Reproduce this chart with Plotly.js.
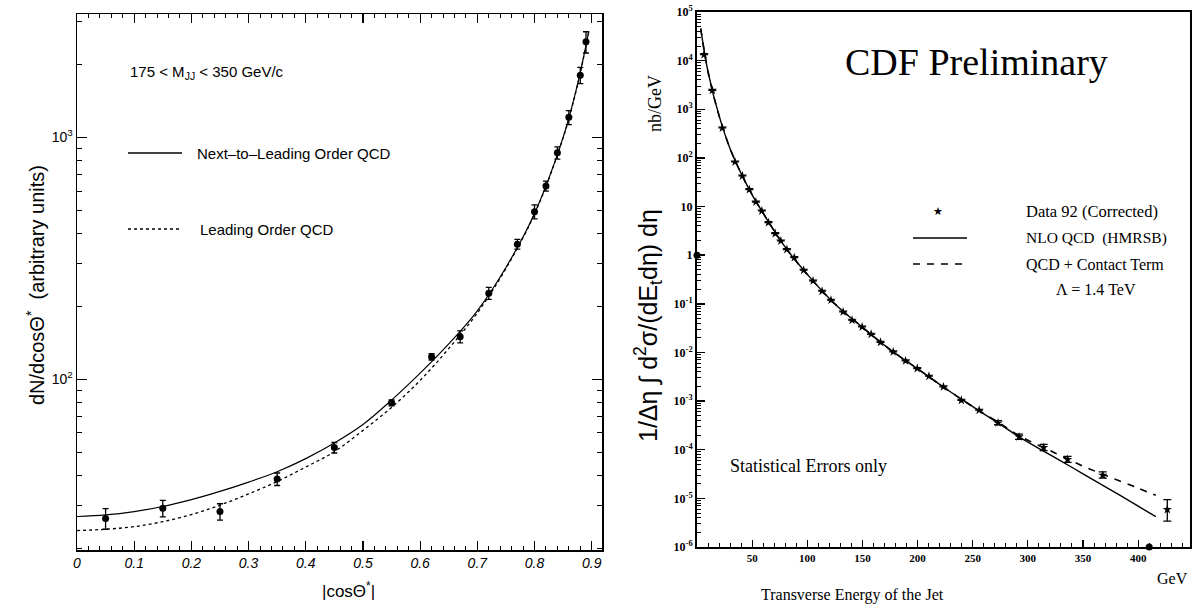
<!DOCTYPE html>
<html>
<head>
<meta charset="utf-8">
<script src="https://cdn.plot.ly/plotly-3.0.1.min.js"></script>
<style>html,body{margin:0;padding:0;background:#fff;}#chart{width:1195px;height:608px;}</style>
</head>
<body>
<div id="chart"></div>
<script>
// ---------- Left panel: angular distribution ----------
const cosCurveX = [0, 0.05, 0.1, 0.15, 0.2, 0.25, 0.3, 0.35, 0.4, 0.45, 0.5, 0.55, 0.6, 0.65, 0.7, 0.75, 0.8, 0.85, 0.875, 0.895];
const nloCurve  = [27.1, 27.5, 28.4, 29.8, 31.8, 34.4, 37.6, 41.5, 47.0, 54.5, 65.0, 82.0, 106, 140, 192, 290, 485, 1000, 1650, 2750];
const loCurve   = [23.7, 24.0, 24.6, 25.8, 27.6, 30.2, 33.6, 37.8, 43.4, 50.2, 61.5, 76.5, 99, 134, 188, 287, 482, 995, 1640, 2750];
const cosDataX  = [0.05, 0.15, 0.25, 0.35, 0.45, 0.55, 0.62, 0.67, 0.72, 0.77, 0.80, 0.82, 0.84, 0.86, 0.88, 0.89];
const cosDataY  = [26.6, 29.3, 28.4, 38.7, 52.2, 80.0, 124, 150, 227, 362, 493, 630, 863, 1210, 1807, 2483];
const cosDataErr= [2.6, 2.3, 2.2, 2.3, 2.6, 2.3, 3.8, 8.6, 13, 17, 33, 30, 50, 80, 140, 250];
const leftXTicks = [0, 0.1, 0.2, 0.3, 0.4, 0.5, 0.6, 0.7, 0.8, 0.9];
const leftXLabels = ['0', '0.1', '0.2', '0.3', '0.4', '0.5', '0.6', '0.7', '0.8', '0.9'];
const leftYTicks = [100, 1000];
const leftYLabels = ['10<sup>2</sup>', '10<sup>3</sup>'];

// ---------- Right panel: inclusive jet Et spectrum ----------
const etCurveX   = [3.4, 10, 20, 30, 40, 50, 60, 80, 100, 125, 150, 175, 200, 225, 250, 275, 292, 325, 350, 375, 400, 416];
const nloEt      = [45700, 5900, 740, 155, 48, 17.4, 7.3, 1.46, 0.403, 0.0995, 0.033, 0.0115, 0.00462, 0.00184, 0.00077, 0.00033, 0.000184, 6.8e-5, 3.2e-5, 1.5e-5, 6.9e-6, 4.2e-6];
const contactEt  = [45700, 5900, 740, 155, 48, 17.4, 7.3, 1.46, 0.403, 0.0995, 0.033, 0.0115, 0.00462, 0.00184, 0.00077, 0.000345, 0.000195, 8.5e-5, 4.6e-5, 2.7e-5, 1.62e-5, 1.16e-5];
const etDataX    = [6.4, 13.9, 23.0, 34.5, 41.2, 47.5, 53.4, 58.8, 64.8, 70.9, 76.0, 81.5, 88.2, 96.7, 105.2, 113.4, 121.5, 132.5, 140.6, 149.7, 157.9, 166.4, 177.9, 189.1, 199.7, 210.3, 223.4, 239.7, 255.8, 273.0, 292.0, 314.3, 336.0, 367.9, 426.4];
const etDataY    = [13300, 2460, 413, 82.6, 42.6, 22.3, 12.4, 8.13, 4.69, 2.79, 1.96, 1.31, 0.893, 0.491, 0.296, 0.182, 0.119, 0.0682, 0.046, 0.0335, 0.0237, 0.0162, 0.0103, 0.00671, 0.00468, 0.00325, 0.00196, 0.00104, 0.00065, 0.000356, 0.000184, 0.000111, 6.31e-5, 3.0e-5, 5.9e-6];
const etErrPlus  = [0,0,0,0,0,0,0,0,0,0,0,0,0,0,0,0,0,0,0,0,0,0,0,0,0,0,0,0,0,0.00004,0.000025,0.000018,1.0e-5,5e-6,3.5e-6];
const etErrMinus = [0,0,0,0,0,0,0,0,0,0,0,0,0,0,0,0,0,0,0,0,0,0,0,0,0,0,0,0,0,0.00003,0.00002,0.000015,8e-6,4e-6,2.5e-6];
const axisDotsX  = [0, 410];
const axisDotsY  = [1, 1e-6];
const rightXTicks = [50, 100, 150, 200, 250, 300, 350, 400];
const rightYTicks = [1e5, 1e4, 1e3, 1e2, 10, 1, 0.1, 0.01, 1e-3, 1e-4, 1e-5, 1e-6];
const rightYLabels = ['10<sup>5</sup>', '10<sup>4</sup>', '10<sup>3</sup>', '10<sup>2</sup>', '10', '1', '10<sup>-1</sup>', '10<sup>-2</sup>', '10<sup>-3</sup>', '10<sup>-4</sup>', '10<sup>-5</sup>', '10<sup>-6</sup>'];

const W = 1195, H = 608;
const px = v => v / W;
const py = v => 1 - v / H;
const sans = 'Liberation Sans, Arial, sans-serif';
const serif = 'Liberation Serif, Times New Roman, serif';

const traces = [
  {x: cosCurveX, y: loCurve, xaxis: 'x', yaxis: 'y', mode: 'lines', line: {color: '#000', width: 1.3, dash: 'dot', shape: 'spline'}, hoverinfo: 'skip'},
  {x: cosCurveX, y: nloCurve, xaxis: 'x', yaxis: 'y', mode: 'lines', line: {color: '#000', width: 1.2, shape: 'spline'}, hoverinfo: 'skip'},
  {x: cosDataX, y: cosDataY, xaxis: 'x', yaxis: 'y', mode: 'markers', marker: {symbol: 'circle', size: 7, color: '#000'},
   error_y: {type: 'data', array: cosDataErr, visible: true, color: '#000', thickness: 1.3, width: 3}},
  {x: etCurveX, y: nloEt, xaxis: 'x2', yaxis: 'y2', mode: 'lines', line: {color: '#000', width: 1.4, shape: 'spline'}, hoverinfo: 'skip'},
  {x: etCurveX, y: contactEt, xaxis: 'x2', yaxis: 'y2', mode: 'lines', line: {color: '#000', width: 1.6, dash: '7px,7px', shape: 'spline'}, hoverinfo: 'skip'},
  {x: etDataX, y: etDataY, xaxis: 'x2', yaxis: 'y2', mode: 'markers', marker: {symbol: 'star', size: 7, color: '#000'},
   error_y: {type: 'data', array: etErrPlus, arrayminus: etErrMinus, visible: true, color: '#000', thickness: 1.3, width: 4}},
  {x: axisDotsX, y: axisDotsY, xaxis: 'x2', yaxis: 'y2', mode: 'markers', marker: {symbol: 'circle', size: 7, color: '#000'}, cliponaxis: false}
];

const layout = {
  width: W, height: H,
  margin: {l: 0, r: 0, t: 0, b: 0},
  paper_bgcolor: '#fff', plot_bgcolor: '#fff',
  showlegend: false,
  xaxis: {
    domain: [px(77), px(602)], range: [0, 0.918], anchor: 'y',
    showline: true, linecolor: '#000', linewidth: 1.5, mirror: 'ticks',
    ticks: 'inside', ticklen: 9, tickwidth: 1.2, tickcolor: '#000',
    tickmode: 'array', tickvals: leftXTicks, ticktext: leftXLabels,
    tickfont: {family: sans, size: 14, color: '#000', style: 'italic'},
    minor: {dtick: 0.02, ticks: 'inside', ticklen: 4, tickcolor: '#000', tickwidth: 1},
    showgrid: false, zeroline: false
  },
  yaxis: {
    domain: [py(550), py(14)], type: 'log', range: [Math.log10(19.7), 3.51], anchor: 'x',
    showline: true, linecolor: '#000', linewidth: 1.5, mirror: 'ticks',
    ticks: 'inside', ticklen: 10, tickwidth: 1.2, tickcolor: '#000',
    tickmode: 'array', tickvals: leftYTicks, ticktext: leftYLabels,
    tickfont: {family: sans, size: 14, color: '#000'},
    minor: {dtick: 'D1', ticks: 'inside', ticklen: 5, tickcolor: '#000', tickwidth: 1},
    showgrid: false, zeroline: false
  },
  xaxis2: {
    domain: [px(697), px(1190)], range: [0, 447], anchor: 'y2',
    showline: true, linecolor: '#000', linewidth: 2, mirror: true,
    ticks: 'inside', ticklen: 7, tickwidth: 1.2, tickcolor: '#000',
    tickmode: 'array', tickvals: rightXTicks,
    tickfont: {family: serif, size: 11, color: '#000', weight: 'bold'},
    minor: {dtick: 10, ticks: 'inside', ticklen: 4, tickcolor: '#000', tickwidth: 1},
    showgrid: false, zeroline: false
  },
  yaxis2: {
    domain: [py(547), py(12)], type: 'log', range: [-6, 5], anchor: 'x2',
    showline: true, linecolor: '#000', linewidth: 2, mirror: true,
    ticks: 'inside', ticklen: 8, tickwidth: 1.5, tickcolor: '#000',
    tickmode: 'array', tickvals: rightYTicks, ticktext: rightYLabels,
    tickfont: {family: serif, size: 12, color: '#000', weight: 'bold'},
    minor: {dtick: 'D1', ticks: 'inside', ticklen: 4, tickcolor: '#000', tickwidth: 1},
    showgrid: false, zeroline: false
  },
  shapes: [
    {type: 'line', xref: 'paper', yref: 'paper', x0: px(128), x1: px(182), y0: py(153), y1: py(153), line: {color: '#000', width: 1.3}},
    {type: 'line', xref: 'paper', yref: 'paper', x0: px(128), x1: px(182), y0: py(229), y1: py(229), line: {color: '#000', width: 1.3, dash: 'dot'}},
    {type: 'line', xref: 'paper', yref: 'paper', x0: px(913), x1: px(967), y0: py(238), y1: py(238), line: {color: '#000', width: 1.4}},
    {type: 'line', xref: 'paper', yref: 'paper', x0: px(913), x1: px(967), y0: py(264), y1: py(264), line: {color: '#000', width: 1.5, dash: '7px,7px'}}
  ],
  annotations: [
    {xref: 'paper', yref: 'paper', x: px(128), y: py(72), xanchor: 'left', yanchor: 'middle', showarrow: false,
     text: '175 &lt; M<sub>JJ</sub> &lt; 350 GeV/c', font: {family: sans, size: 15, color: '#000'}},
    {xref: 'paper', yref: 'paper', x: px(195), y: py(153), xanchor: 'left', yanchor: 'middle', showarrow: false,
     text: 'Next–to–Leading Order QCD', font: {family: sans, size: 15, color: '#000'}},
    {xref: 'paper', yref: 'paper', x: px(198), y: py(229), xanchor: 'left', yanchor: 'middle', showarrow: false,
     text: 'Leading Order QCD', font: {family: sans, size: 15, color: '#000'}},
    {xref: 'paper', yref: 'paper', x: px(35), y: py(285), xanchor: 'center', yanchor: 'middle', showarrow: false, textangle: -90,
     text: 'dN/dcosΘ<sup>*</sup>  (arbitrary units)', font: {family: sans, size: 20, color: '#000'}},
    {xref: 'paper', yref: 'paper', x: px(348), y: py(590), xanchor: 'center', yanchor: 'middle', showarrow: false,
     text: '|cosΘ<sup>*</sup>|', font: {family: sans, size: 17, color: '#000'}},
    // right panel
    {xref: 'paper', yref: 'paper', x: px(976), y: py(62), xanchor: 'center', yanchor: 'middle', showarrow: false,
     text: 'CDF Preliminary', font: {family: serif, size: 38, color: '#000'}},
    {xref: 'paper', yref: 'paper', x: px(938), y: py(212), xanchor: 'center', yanchor: 'middle', showarrow: false,
     text: '★', font: {family: 'DejaVu Sans', size: 11, color: '#000'}},
    {xref: 'paper', yref: 'paper', x: px(1024), y: py(212), xanchor: 'left', yanchor: 'middle', showarrow: false,
     text: 'Data 92 (Corrected)', font: {family: serif, size: 16.5, color: '#000'}},
    {xref: 'paper', yref: 'paper', x: px(1024), y: py(238), xanchor: 'left', yanchor: 'middle', showarrow: false,
     text: 'NLO QCD  (HMRSB)', font: {family: serif, size: 15.5, color: '#000'}},
    {xref: 'paper', yref: 'paper', x: px(1024), y: py(264), xanchor: 'left', yanchor: 'middle', showarrow: false,
     text: 'QCD + Contact Term', font: {family: serif, size: 16, color: '#000'}},
    {xref: 'paper', yref: 'paper', x: px(1096), y: py(289), xanchor: 'center', yanchor: 'middle', showarrow: false,
     text: 'Λ = 1.4 TeV', font: {family: serif, size: 16, color: '#000'}},
    {xref: 'paper', yref: 'paper', x: px(728), y: py(466), xanchor: 'left', yanchor: 'middle', showarrow: false,
     text: 'Statistical Errors only', font: {family: serif, size: 18, color: '#000'}},
    {xref: 'paper', yref: 'paper', x: px(648), y: py(325), xanchor: 'center', yanchor: 'middle', showarrow: false, textangle: -90,
     text: '1/Δη ∫ d<sup>2</sup>σ/(dE<sub>t</sub>dη) dη', font: {family: sans, size: 25, color: '#000'}},
    {xref: 'paper', yref: 'paper', x: px(655), y: py(104), xanchor: 'center', yanchor: 'middle', showarrow: false, textangle: -90,
     text: 'nb/GeV', font: {family: serif, size: 18, color: '#000'}},
    {xref: 'paper', yref: 'paper', x: px(852), y: py(595), xanchor: 'center', yanchor: 'middle', showarrow: false,
     text: 'Transverse Energy of the Jet', font: {family: serif, size: 16, color: '#000'}},
    {xref: 'paper', yref: 'paper', x: px(1172), y: py(578), xanchor: 'center', yanchor: 'middle', showarrow: false,
     text: 'GeV', font: {family: serif, size: 16, color: '#000'}}
  ]
};

Plotly.newPlot('chart', traces, layout, {displayModeBar: false, staticPlot: true});
</script>
</body>
</html>
